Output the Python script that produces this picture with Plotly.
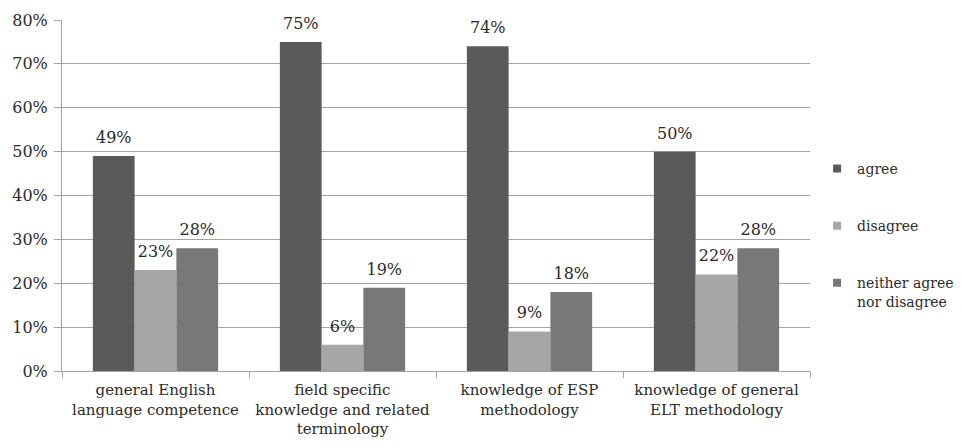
import plotly.graph_objects as go

categories = [
    "general English<br>language competence",
    "field specific<br>knowledge and related<br>terminology",
    "knowledge of ESP<br>methodology",
    "knowledge of general<br>ELT methodology",
]
series_names = ["agree", "disagree", "neither agree<br>nor disagree"]
agree = [0.49, 0.75, 0.74, 0.50]
disagree = [0.23, 0.06, 0.09, 0.22]
neither = [0.28, 0.19, 0.18, 0.28]
y_ticks = [0, 0.1, 0.2, 0.3, 0.4, 0.5, 0.6, 0.7, 0.8]

colors = ["#5a5a5a", "#a6a6a6", "#787878"]
FONT = "DejaVu Serif"
TEXT_COLOR = "#2b2b2b"
GRID = "#a3a3a3"
GAP = 0.33

fig = go.Figure()
for name, vals, col in zip(series_names, [agree, disagree, neither], colors):
    key = name.split("<br>")[0]
    # bars
    fig.add_trace(go.Bar(
        x=categories, y=vals, name=name, marker_color=col,
        marker_line_width=0, offsetgroup=key, showlegend=False,
        hoverinfo="skip",
    ))
    # value labels aligned with their bars
    fig.add_trace(go.Scatter(
        x=categories, y=vals, mode="markers+text", orientation="v",
        offsetgroup=key, marker=dict(size=13, opacity=0),
        text=[f"{v:.0%}" for v in vals], textposition="top center",
        textfont=dict(family=FONT, size=16, color=TEXT_COLOR),
        showlegend=False, hoverinfo="skip", cliponaxis=False,
    ))
    # legend entry
    fig.add_trace(go.Scatter(
        x=[None], y=[None], mode="markers", name=name, legendgroup=key,
        marker=dict(symbol="square", size=8, color=col),
    ))

fig.update_layout(
    width=961, height=448,
    margin=dict(l=62, r=151, t=20, b=77, autoexpand=False),
    paper_bgcolor="white", plot_bgcolor="white",
    barmode="group", bargap=GAP, bargroupgap=0,
    scattermode="group", scattergap=GAP,
    font=dict(family=FONT, size=16, color=TEXT_COLOR),
    legend=dict(
        x=1.0095, y=0.6215, xanchor="left", yanchor="top",
        font=dict(family=FONT, size=14, color=TEXT_COLOR),
        traceorder="grouped", tracegroupgap=36, valign="top",
        bgcolor="rgba(0,0,0,0)",
    ),
    showlegend=True,
)
fig.update_yaxes(
    range=[0, 0.8], tickvals=y_ticks, tickformat=".0%",
    showgrid=True, gridcolor=GRID, gridwidth=1,
    showline=True, linecolor=GRID, linewidth=1,
    ticks="outside", ticklen=7, tickcolor=GRID,
    zeroline=False, ticklabelstandoff=3, automargin=False,
    tickfont=dict(size=16),
)
fig.update_xaxes(
    showline=True, linecolor=GRID, linewidth=1,
    ticks="outside", ticklen=6, tickcolor=GRID, tickson="boundaries",
    showgrid=False, automargin=False, tickangle=0,
    tickfont=dict(size=15), ticklabelstandoff=5,
)

fig.write_html("out.html")
